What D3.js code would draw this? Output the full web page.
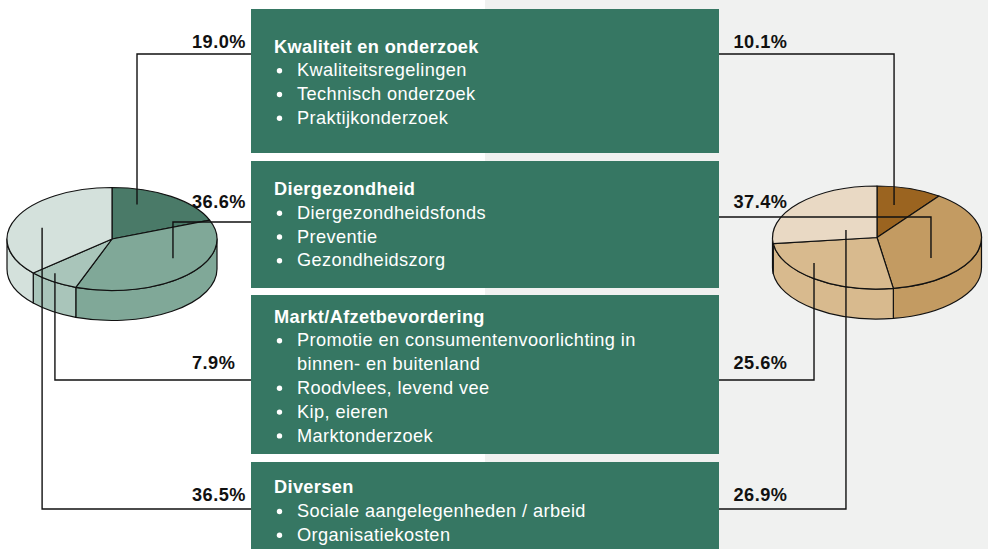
<!DOCTYPE html>
<html>
<head>
<meta charset="utf-8">
<style>
body { margin: 0; padding: 0; }
svg { display: block; font-family: "Liberation Sans", Arial, Helvetica, sans-serif; }
</style>
<script src="https://cdn.jsdelivr.net/npm/d3@7"></script>
</head>
<body>
<script>
// Categories (one text box per category, one slice per category in each pie)
var categories = ["Kwaliteit en onderzoek", "Diergezondheid", "Markt/Afzetbevordering", "Diversen"];

// Bullet items per category (an array inside an item = wrapped lines)
var categoryItems = [
    ["Kwaliteitsregelingen", "Technisch onderzoek", "Praktijkonderzoek"],
    ["Diergezondheidsfonds", "Preventie", "Gezondheidszorg"],
    [["Promotie en consumentenvoorlichting in", "binnen- en buitenland"], "Roodvlees, levend vee", "Kip, eieren", "Marktonderzoek"],
    ["Sociale aangelegenheden / arbeid", "Organisatiekosten"]
];

// Shares in percent
var leftValues = [19.0, 36.6, 7.9, 36.5];
var rightValues = [10.1, 37.4, 25.6, 26.9];

// Colours
var leftColors = ["#4a7a68", "#80a898", "#a9c5ba", "#d4e1dc"];
var rightColors = ["#9b6420", "#c39b62", "#d8ba8e", "#e9d9c4"];
var boxColor = "#367763";

var width = 988,
    height = 549;

// Pie geometry (flattened ellipse + side depth)
var leftPie = {cx: 112, cy: 239, rx: 105, ry: 51.5, depth: 30},
    rightPie = {cx: 877, cy: 237.5, rx: 104.5, ry: 51.5, depth: 30};

// Where each leader line touches its slice: angle (deg, clockwise from top) and radius fraction
var leftAnchors = [[19.6, 0.71], [122.7, 0.69], [219.2, 0.86], [288, 0.70]];
var rightAnchors = [[14.5, 0.652], [127.6, 0.652], [230.6, 0.78], [296.2, 0.331]];

// Leader rows (horizontal line y) and label baselines
var leftRowY = [54, 222, 380, 509],
    rightRowY = [54, 217, 380, 509],
    labelY = [47.5, 208, 369, 501];

// Text boxes
var boxX0 = 251, boxX1 = 719;
var boxTop = [9, 161, 295, 462],
    boxBottom = [153, 288, 454, 560],
    titleY = [52.5, 195, 322.5, 493.3];
var lineStep = 23.8;

var fmt = d3.format(".1f");

var svg = d3.select("body")
    .append("svg")
        .attr("width", width)
        .attr("height", height);

// Background: white left, light grey right
svg.append("rect")
    .attr("width", width)
    .attr("height", height)
    .attr("fill", "#ffffff");
svg.append("rect")
    .attr("x", 485)
    .attr("width", width - 485)
    .attr("height", height)
    .attr("fill", "#f0f1f0");

// point on the (flattened) pie ellipse
function pt(g, a, r, dy) {
    return [g.cx + g.rx * r * Math.sin(a), g.cy - g.ry * r * Math.cos(a) + (dy || 0)];
}

function drawPie(g, values, colors) {
    var arcs = d3.pie().sort(null).value(function(d) { return d; })(values);
    var grp = svg.append("g");

    // side walls for the front half (90deg .. 270deg)
    arcs.forEach(function(d, i) {
        var s = Math.max(d.startAngle, Math.PI / 2),
            e = Math.min(d.endAngle, Math.PI * 3 / 2);
        if (s >= e) return;
        var p0 = pt(g, s, 1), p1 = pt(g, e, 1),
            q0 = pt(g, s, 1, g.depth), q1 = pt(g, e, 1, g.depth);
        var path = "M" + p0 + "A" + g.rx + "," + g.ry + " 0 0 1 " + p1 +
            "L" + q1 + "A" + g.rx + "," + g.ry + " 0 0 0 " + q0 + "Z";
        grp.append("path")
            .attr("d", path)
            .attr("fill", colors[i])
            .attr("stroke", "#111")
            .attr("stroke-width", 1.2)
            .attr("stroke-linejoin", "round");
    });

    // top faces
    arcs.forEach(function(d, i) {
        var p0 = pt(g, d.startAngle, 1), p1 = pt(g, d.endAngle, 1);
        var large = (d.endAngle - d.startAngle) > Math.PI ? 1 : 0;
        var path = "M" + g.cx + "," + g.cy + "L" + p0 +
            "A" + g.rx + "," + g.ry + " 0 " + large + " 1 " + p1 + "Z";
        grp.append("path")
            .attr("d", path)
            .attr("fill", colors[i])
            .attr("stroke", "#111")
            .attr("stroke-width", 1.2)
            .attr("stroke-linejoin", "round");
    });
}

drawPie(leftPie, leftValues, leftColors);
drawPie(rightPie, rightValues, rightColors);

// Text boxes
categories.forEach(function(name, i) {
    var box = svg.append("g");
    box.append("rect")
        .attr("x", boxX0)
        .attr("y", boxTop[i])
        .attr("width", boxX1 - boxX0)
        .attr("height", boxBottom[i] - boxTop[i])
        .attr("fill", boxColor);

    box.append("text")
        .attr("x", 274)
        .attr("y", titleY[i])
        .attr("fill", "#ffffff")
        .style("font-size", "18.2px")
        .style("letter-spacing", "0.35px")
        .style("font-weight", "bold")
        .text(name);

    var line = 1;
    categoryItems[i].forEach(function(item) {
        var lines = Array.isArray(item) ? item : [item];
        var y = titleY[i] + line * lineStep;
        box.append("circle")
            .attr("cx", 279.5)
            .attr("cy", y - 5.6)
            .attr("r", 2.7)
            .attr("fill", "#ffffff");
        lines.forEach(function(t) {
            box.append("text")
                .attr("x", 297)
                .attr("y", titleY[i] + line * lineStep)
                .attr("fill", "#ffffff")
                .style("font-size", "18.2px")
                .style("letter-spacing", "0.4px")
                .text(t);
            line++;
        });
    });
});

// Leader lines + percentage labels
function drawLeaders(g, values, anchors, rowY, side) {
    values.forEach(function(v, i) {
        var a = anchors[i][0] * Math.PI / 180,
            p = pt(g, a, anchors[i][1]);
        var edge = side === "left" ? boxX0 : boxX1;
        svg.append("path")
            .attr("d", "M" + p + "L" + p[0] + "," + rowY[i] + "L" + edge + "," + rowY[i])
            .attr("fill", "none")
            .attr("stroke", "#111")
            .attr("stroke-width", 1.4);

        svg.append("text")
            .attr("x", side === "left" ? 192 : 733.5)
            .attr("y", labelY[i])
            .attr("fill", "#111")
            .style("font-size", "18.2px")
            .style("letter-spacing", "0.45px")
            .style("font-weight", "bold")
            .text(fmt(v) + "%");
    });
}

drawLeaders(leftPie, leftValues, leftAnchors, leftRowY, "left");
drawLeaders(rightPie, rightValues, rightAnchors, rightRowY, "right");
</script>
</body>
</html>
